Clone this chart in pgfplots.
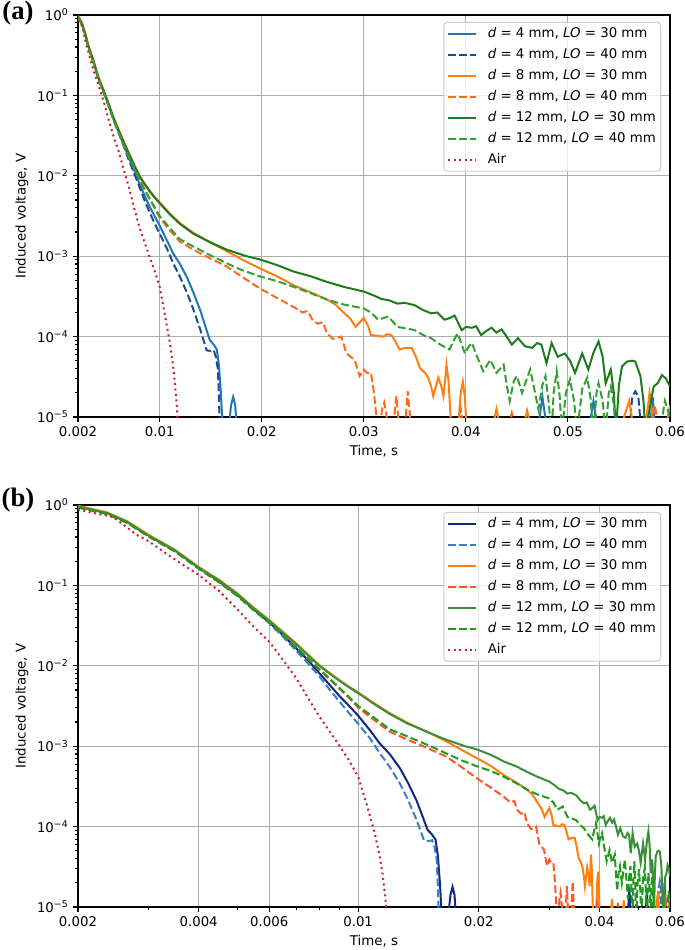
\documentclass[border=0pt]{standalone}
\usepackage{fontspec}
\setmainfont{DejaVu Sans}
\newfontfamily\tnr{Liberation Serif}
\usepackage{pgfplots}
\usepackage{pgfplotstable}
\pgfplotsset{compat=1.18}

\definecolor{aB30}{HTML}{1F77B4}
\definecolor{aB40}{HTML}{1C4B96}
\definecolor{aO30}{HTML}{FF7F0E}
\definecolor{aO40}{HTML}{FF6A1A}
\definecolor{aG30}{HTML}{1E7A1E}
\definecolor{aG40}{HTML}{33A033}
\definecolor{aAir}{HTML}{D0202A}
\definecolor{bB30}{HTML}{0E2A80}
\definecolor{bB40}{HTML}{3A7DC9}
\definecolor{bO30}{HTML}{FF7F0E}
\definecolor{bO40}{HTML}{FF5722}
\definecolor{bG30}{HTML}{3A8F3A}
\definecolor{bG40}{HTML}{1F9A1F}
\definecolor{bAir}{HTML}{D0202A}

% columns: t (s), ly = log10(voltage in V)
\pgfplotstableread{
t ly
0.0020 -0.02
0.00236 -0.10
0.00265 -0.21
0.0030 -0.38
0.0035 -0.57
0.0040 -0.78
0.0045 -0.95
0.0050 -1.12
0.0055 -1.30
0.0060 -1.46
0.0065 -1.62
0.0070 -1.78
0.0075 -1.93
0.0080 -2.09
0.0085 -2.24
0.0090 -2.38
0.0095 -2.50
0.0100 -2.62
0.0107 -2.80
0.0113 -2.96
0.0120 -3.10
0.0127 -3.27
0.0133 -3.45
0.0140 -3.68
0.0145 -3.88
0.0149 -4.04
0.0153 -4.10
0.0156 -4.16
0.0158 -4.35
0.0160 -4.70
0.0162 -5.2
0.0167 -5.2
0.0170 -4.85
0.0172 -4.75
0.0174 -4.85
0.0176 -5.2
0.0470 -5.2
0.0475 -4.75
0.0480 -5.2
0.0520 -5.2
0.0525 -4.80
0.0530 -5.2
0.0580 -5.2
0.0583 -4.75
0.0586 -5.2
}\tbBthirty

\pgfplotstableread{
t ly
0.0020 -0.03
0.00236 -0.11
0.00265 -0.22
0.0030 -0.39
0.0035 -0.58
0.0040 -0.79
0.0045 -0.96
0.0050 -1.13
0.0055 -1.31
0.0060 -1.47
0.0065 -1.64
0.0070 -1.81
0.0075 -1.97
0.0080 -2.13
0.0085 -2.30
0.0090 -2.45
0.0095 -2.59
0.0100 -2.72
0.0107 -2.90
0.0113 -3.08
0.0120 -3.26
0.0127 -3.46
0.0133 -3.66
0.0140 -3.92
0.0146 -4.17
0.0150 -4.18
0.0153 -4.17
0.0155 -4.25
0.0157 -4.40
0.0158 -4.70
0.0159 -5.2
0.0560 -5.2
0.0563 -4.75
0.0566 -4.68
0.0569 -4.75
0.0572 -5.2
}\tbBforty

\pgfplotstableread{
t ly
0.0020 -0.01
0.00236 -0.09
0.00265 -0.20
0.0030 -0.37
0.0035 -0.56
0.0040 -0.77
0.0045 -0.93
0.0050 -1.10
0.0055 -1.28
0.0060 -1.43
0.0065 -1.58
0.0070 -1.72
0.0075 -1.86
0.0080 -1.99
0.0085 -2.09
0.0090 -2.18
0.0095 -2.26
0.0100 -2.33
0.0110 -2.47
0.0120 -2.59
0.0133 -2.71
0.0150 -2.83
0.0166 -2.94
0.0185 -3.07
0.0198 -3.15
0.0215 -3.25
0.0231 -3.36
0.0248 -3.45
0.0264 -3.54
0.0272 -3.60
0.0281 -3.71
0.0287 -3.78
0.0292 -3.88
0.0296 -3.82
0.0300 -3.77
0.0304 -3.86
0.0307 -3.98
0.0313 -3.99
0.0319 -4.00
0.0323 -3.97
0.0327 -3.98
0.0331 -4.06
0.0335 -4.16
0.0341 -4.14
0.0347 -4.14
0.0351 -4.25
0.0355 -4.39
0.0360 -4.45
0.0363 -4.51
0.0366 -4.62
0.0368 -4.74
0.0371 -4.60
0.0373 -4.51
0.0376 -4.62
0.0378 -4.74
0.0380 -4.50
0.0381 -4.35
0.0383 -4.55
0.0386 -5.2
0.0392 -5.2
0.0395 -4.70
0.0397 -4.56
0.0399 -4.75
0.0401 -5.2
0.0425 -5.2
0.0430 -4.90
0.0435 -5.2
0.0455 -5.2
0.0460 -4.92
0.0465 -5.2
0.0550 -5.2
0.0560 -4.80
0.0565 -5.2
0.0575 -5.2
0.0580 -4.70
0.0585 -5.2
0.0595 -5.2
0.0600 -4.85
}\tbOthirty

\pgfplotstableread{
t ly
0.0020 -0.03
0.00236 -0.11
0.00265 -0.22
0.0030 -0.39
0.0035 -0.58
0.0040 -0.79
0.0045 -0.96
0.0050 -1.13
0.0055 -1.31
0.0060 -1.46
0.0065 -1.62
0.0070 -1.77
0.0075 -1.91
0.0080 -2.05
0.0085 -2.17
0.0090 -2.29
0.0095 -2.40
0.0100 -2.52
0.0110 -2.68
0.0120 -2.82
0.0133 -2.92
0.0150 -3.03
0.0166 -3.13
0.0180 -3.25
0.0198 -3.40
0.0215 -3.52
0.0231 -3.63
0.0240 -3.70
0.0245 -3.68
0.0250 -3.80
0.0255 -3.84
0.0260 -3.82
0.0264 -3.96
0.0270 -4.03
0.0278 -4.00
0.0283 -4.21
0.0291 -4.29
0.0296 -4.49
0.0300 -4.41
0.0303 -4.45
0.0307 -4.45
0.0310 -4.70
0.0312 -4.95
0.0315 -5.2
0.0318 -4.90
0.0320 -4.82
0.0322 -4.95
0.0324 -5.2
0.0328 -5.2
0.0332 -4.74
0.0335 -5.2
0.0340 -5.2
0.0343 -4.68
0.0347 -5.2
0.0392 -5.2
0.0395 -4.90
0.0398 -5.2
0.0440 -5.2
0.0445 -4.95
0.0450 -5.2
0.0580 -5.2
0.0585 -4.85
0.0590 -5.2
}\tbOforty

\pgfplotstableread{
t ly
0.0020 -0.02
0.00236 -0.10
0.00265 -0.21
0.0030 -0.38
0.0035 -0.57
0.0040 -0.78
0.0045 -0.94
0.0050 -1.11
0.0055 -1.29
0.0060 -1.44
0.0065 -1.59
0.0070 -1.73
0.0075 -1.87
0.0080 -2.00
0.0085 -2.10
0.0090 -2.19
0.0095 -2.27
0.0100 -2.34
0.0110 -2.48
0.0120 -2.60
0.0133 -2.72
0.0150 -2.83
0.0166 -2.92
0.0185 -3.00
0.0198 -3.04
0.0215 -3.11
0.0231 -3.19
0.0248 -3.25
0.0264 -3.32
0.0280 -3.38
0.0300 -3.44
0.0310 -3.49
0.0317 -3.53
0.0325 -3.55
0.0333 -3.59
0.0340 -3.58
0.0350 -3.61
0.0358 -3.67
0.0366 -3.71
0.0372 -3.70
0.0379 -3.79
0.0384 -3.77
0.0389 -3.74
0.0396 -3.92
0.0400 -3.88
0.0406 -3.89
0.0410 -3.87
0.0415 -3.98
0.0420 -3.93
0.0425 -3.89
0.0430 -3.95
0.0435 -3.91
0.0440 -4.00
0.0445 -4.10
0.0451 -4.02
0.0458 -4.12
0.0465 -4.14
0.0470 -4.08
0.0474 -4.10
0.0479 -4.33
0.0484 -4.08
0.0490 -4.25
0.0497 -4.21
0.0502 -4.30
0.0507 -4.45
0.0514 -4.21
0.0520 -4.41
0.0525 -4.20
0.0530 -4.06
0.0534 -4.25
0.0537 -4.58
0.0542 -4.41
0.0545 -4.70
0.0547 -5.2
0.0550 -4.60
0.0553 -4.37
0.0558 -4.31
0.0563 -4.30
0.0566 -4.31
0.0571 -4.49
0.0574 -4.80
0.0576 -5.2
0.0580 -4.90
0.0584 -4.62
0.0588 -4.58
0.0592 -4.48
0.0596 -4.52
0.0600 -4.62
}\tbGthirty

\pgfplotstableread{
t ly
0.0020 -0.03
0.00236 -0.11
0.00265 -0.22
0.0030 -0.39
0.0035 -0.58
0.0040 -0.79
0.0045 -0.96
0.0050 -1.13
0.0055 -1.31
0.0060 -1.46
0.0065 -1.62
0.0070 -1.77
0.0075 -1.91
0.0080 -2.04
0.0085 -2.16
0.0090 -2.28
0.0095 -2.39
0.0100 -2.50
0.0110 -2.65
0.0120 -2.79
0.0133 -2.88
0.0150 -2.99
0.0166 -3.09
0.0180 -3.17
0.0198 -3.25
0.0215 -3.31
0.0231 -3.38
0.0248 -3.46
0.0264 -3.54
0.0280 -3.60
0.0300 -3.65
0.0307 -3.70
0.0314 -3.79
0.0324 -3.75
0.0333 -3.88
0.0342 -3.90
0.0350 -3.92
0.0358 -3.98
0.0366 -4.02
0.0375 -4.10
0.0384 -4.16
0.0388 -4.05
0.0392 -3.96
0.0396 -4.10
0.0399 -4.21
0.0403 -4.12
0.0406 -4.08
0.0411 -4.25
0.0417 -4.43
0.0424 -4.29
0.0430 -4.45
0.0437 -4.35
0.0440 -4.60
0.0443 -4.80
0.0447 -4.55
0.0450 -4.49
0.0455 -4.70
0.0459 -4.55
0.0463 -4.41
0.0467 -4.65
0.0471 -4.90
0.0475 -4.60
0.0478 -4.49
0.0481 -4.80
0.0484 -5.2
0.0486 -4.70
0.0489 -4.43
0.0492 -4.75
0.0494 -5.2
0.0498 -4.70
0.0502 -4.53
0.0506 -4.80
0.0509 -5.2
0.0514 -4.65
0.0519 -4.51
0.0522 -4.75
0.0525 -5.2
0.0528 -4.70
0.0530 -4.58
0.0534 -4.80
0.0537 -5.2
0.0540 -4.70
0.0542 -4.62
0.0545 -4.85
0.0547 -5.2
0.0590 -5.2
0.0595 -4.80
0.0600 -5.0
}\tbGforty

\pgfplotstableread{
t ly
0.0020 -0.06
0.00245 -0.15
0.0028 -0.37
0.0030 -0.45
0.0034 -0.64
0.0040 -0.87
0.0045 -1.07
0.0050 -1.30
0.0055 -1.52
0.0060 -1.70
0.0065 -1.93
0.0070 -2.15
0.0075 -2.40
0.0080 -2.63
0.0085 -2.82
0.0090 -3.00
0.0095 -3.18
0.0100 -3.38
0.0105 -3.72
0.0110 -4.08
0.0113 -4.35
0.0115 -4.58
0.0117 -4.90
0.0119 -5.3
}\tbAir

\newcommand\lab[2]{\textit{d} = #1 mm, \textit{LO} = #2 mm}

\newcommand\plotcurves[1]{%
  \addplot[color=#1B30, line width=1.5pt] table[x=t, y expr={10^(\thisrow{ly})}] {\tbBthirty};
  \addlegendentry{\lab{4}{30}}
  \addplot[color=#1B40, line width=1.5pt, dash pattern=on 5.8pt off 2.5pt] table[x=t, y expr={10^(\thisrow{ly})}] {\tbBforty};
  \addlegendentry{\lab{4}{40}}
  \addplot[color=#1O30, line width=1.5pt] table[x=t, y expr={10^(\thisrow{ly})}] {\tbOthirty};
  \addlegendentry{\lab{8}{30}}
  \addplot[color=#1O40, line width=1.5pt, dash pattern=on 5.8pt off 2.5pt] table[x=t, y expr={10^(\thisrow{ly})}] {\tbOforty};
  \addlegendentry{\lab{8}{40}}
  \addplot[color=#1G30, line width=1.5pt] table[x=t, y expr={10^(\thisrow{ly})}] {\tbGthirty};
  \addlegendentry{\lab{12}{30}}
  \addplot[color=#1G40, line width=1.5pt, dash pattern=on 5.8pt off 2.5pt] table[x=t, y expr={10^(\thisrow{ly})}] {\tbGforty};
  \addlegendentry{\lab{12}{40}}
  \addplot[color=#1Air, line width=1.5pt, dash pattern=on 1.5pt off 2.6pt] table[x=t, y expr={10^(\thisrow{ly})}] {\tbAir};
  \addlegendentry{Air}
}

\begin{document}
\begin{tikzpicture}
\useasboundingbox (0pt,0pt) rectangle (513.75pt,712.5pt);

\begin{axis}[at={(58.5pt,399.75pt)}, anchor=south west,
    scale only axis, width=444pt, height=301.5pt,
    ymode=log, ymin=1e-5, ymax=1,
    xmin=0.002, xmax=0.06, scaled x ticks=false,
    xtick={0.002,0.01,0.02,0.03,0.04,0.05,0.06},
    xticklabels={0.002,0.01,0.02,0.03,0.04,0.05,0.06},
    ytick={1e-5,1e-4,1e-3,1e-2,1e-1,1},
    yticklabels={10\textsuperscript{−5},10\textsuperscript{−4},10\textsuperscript{−3},10\textsuperscript{−2},10\textsuperscript{−1},10\textsuperscript{0}},
    minor ytick={2e-5,3e-5,4e-5,5e-5,6e-5,7e-5,8e-5,9e-5,
                 2e-4,3e-4,4e-4,5e-4,6e-4,7e-4,8e-4,9e-4,
                 2e-3,3e-3,4e-3,5e-3,6e-3,7e-3,8e-3,9e-3,
                 2e-2,3e-2,4e-2,5e-2,6e-2,7e-2,8e-2,9e-2,
                 0.2,0.3,0.4,0.5,0.6,0.7,0.8,0.9},
    grid=major, major grid style={black!32, line width=0.8pt},
    axis line style={black, line width=0.9pt},
    tick align=outside, xtick pos=bottom, ytick pos=left,
    major tick length=3.65pt, minor tick length=2.1pt,
    tick style={black, line width=0.8pt},
    tick label style={font=\fontsize{10}{12}\selectfont},
    xlabel={Time, s}, ylabel={Induced voltage, V},
    xlabel style={font=\fontsize{10}{12}\selectfont, at={(axis description cs:0.5,-0.086)}, anchor=center},
    ylabel style={font=\fontsize{10}{12}\selectfont, at={(axis description cs:-0.0946,0.5)}, anchor=center},
    legend cell align=left,
    legend image code/.code={\draw[#1] (0pt,0pt) -- (21pt,0pt);},
    legend style={at={(0.985,0.983)}, anchor=north east,
      draw=black!20, line width=0.75pt, rounded corners=2.5pt,
      fill=white, fill opacity=0.8, draw opacity=1, text opacity=1,
      inner xsep=2.5pt, inner ysep=2.5pt,
      font=\fontsize{10}{12}\selectfont, row sep=4pt,
      nodes={inner sep=1pt, text height=7.6pt, text depth=2.2pt},
      /tikz/every odd column/.append style={column sep=7pt}},
  ]
  \plotcurves{a}
\end{axis}

\begin{axis}[at={(58.5pt,32.25pt)}, anchor=south west,
    scale only axis, width=444pt, height=301.5pt,
    xmode=log, ymode=log, ymin=1e-5, ymax=1,
    xmin=0.002, xmax=0.06,
    xtick={0.002,0.004,0.006,0.01,0.02,0.04,0.06},
    xticklabels={0.002,0.004,0.006,0.01,0.02,0.04,0.06},
    minor xtick={0.003,0.005,0.007,0.008,0.009,0.03,0.05},
    ytick={1e-5,1e-4,1e-3,1e-2,1e-1,1},
    yticklabels={10\textsuperscript{−5},10\textsuperscript{−4},10\textsuperscript{−3},10\textsuperscript{−2},10\textsuperscript{−1},10\textsuperscript{0}},
    minor ytick={2e-5,3e-5,4e-5,5e-5,6e-5,7e-5,8e-5,9e-5,
                 2e-4,3e-4,4e-4,5e-4,6e-4,7e-4,8e-4,9e-4,
                 2e-3,3e-3,4e-3,5e-3,6e-3,7e-3,8e-3,9e-3,
                 2e-2,3e-2,4e-2,5e-2,6e-2,7e-2,8e-2,9e-2,
                 0.2,0.3,0.4,0.5,0.6,0.7,0.8,0.9},
    grid=major, major grid style={black!32, line width=0.8pt},
    axis line style={black, line width=0.9pt},
    tick align=outside, xtick pos=bottom, ytick pos=left,
    major tick length=3.65pt, minor tick length=2.1pt,
    tick style={black, line width=0.8pt},
    tick label style={font=\fontsize{10}{12}\selectfont},
    xlabel={Time, s}, ylabel={Induced voltage, V},
    xlabel style={font=\fontsize{10}{12}\selectfont, at={(axis description cs:0.5,-0.086)}, anchor=center},
    ylabel style={font=\fontsize{10}{12}\selectfont, at={(axis description cs:-0.0946,0.5)}, anchor=center},
    legend cell align=left,
    legend image code/.code={\draw[#1] (0pt,0pt) -- (21pt,0pt);},
    legend style={at={(0.985,0.983)}, anchor=north east,
      draw=black!20, line width=0.75pt, rounded corners=2.5pt,
      fill=white, fill opacity=0.8, draw opacity=1, text opacity=1,
      inner xsep=2.5pt, inner ysep=2.5pt,
      font=\fontsize{10}{12}\selectfont, row sep=4pt,
      nodes={inner sep=1pt, text height=7.6pt, text depth=2.2pt},
      /tikz/every odd column/.append style={column sep=7pt}},
  ]
  \plotcurves{b}
\end{axis}

\node[font=\tnr\bfseries\fontsize{20}{22}\selectfont] at (13.5pt,702.75pt) {(a)};
\node[font=\tnr\bfseries\fontsize{20}{22}\selectfont] at (13.5pt,337.5pt) {(b)};
\end{tikzpicture}
\end{document}
